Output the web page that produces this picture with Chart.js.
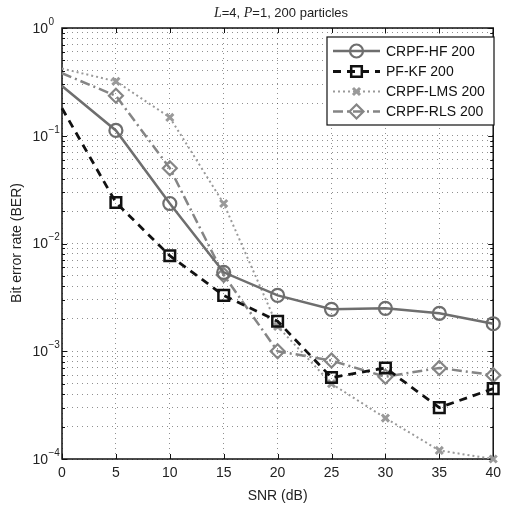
<!DOCTYPE html>
<html>
<head>
<meta charset="utf-8">
<script src="https://cdn.jsdelivr.net/npm/chart.js@4.4.1/dist/chart.umd.min.js"></script>
<style>
  html, body { margin: 0; padding: 0; background: #fff; }
  #wrap { width: 507px; height: 508px; }
</style>
</head>
<body>
<div id="wrap"><canvas id="chart" width="507" height="508"></canvas></div>
<script>
// data
const snr = [0, 5, 10, 15, 20, 25, 30, 35, 40];
const crpfHF = [0.29, 0.112, 0.0235, 0.0054, 0.0033, 0.00245, 0.0025, 0.00225, 0.0018];
const pfKF = [0.18, 0.024, 0.0077, 0.0033, 0.0019, 0.00057, 0.0007, 0.0003, 0.00045];
const crpfLMS = [0.42, 0.32, 0.148, 0.0235, 0.0017, 0.0005, 0.00024, 0.00012, 0.0001];
const crpfRLS = [0.38, 0.235, 0.05, 0.0051, 0.001, 0.00082, 0.00058, 0.0007, 0.0006];
const seriesNames = ['CRPF-HF 200', 'PF-KF 200', 'CRPF-LMS 200', 'CRPF-RLS 200'];
const yExponents = [0, -1, -2, -3, -4];

const SANS = '"Liberation Sans", Arial, sans-serif';
const SERIF = '"Liberation Serif", "Times New Roman", serif';

const pts = vals => snr.map((s, i) => ({ x: s, y: vals[i] }));

const styles = [
  { color: '#6e6e6e', width: 2.5, dash: [], marker: 'circle', r: 6.5, mw: 2.2 },
  { color: '#111111', width: 2.8, dash: [8, 6], marker: 'rect', r: 7.5, mw: 2.5 },
  { color: '#9a9a9a', width: 2, dash: [2, 3], marker: 'crossRot', r: 5, mw: 3 },
  { color: '#858585', width: 2.5, dash: [10, 4, 2, 4], marker: 'rectRot', r: 7, mw: 2.2 }
];
const values = [crpfHF, pfKF, crpfLMS, crpfRLS];

// no marker at SNR = 0 in the original
const radii = r => snr.map(s => (s === 0 ? 0 : r));

const datasets = values.map((v, i) => ({
  label: seriesNames[i],
  data: pts(v),
  borderColor: styles[i].color,
  borderWidth: styles[i].width,
  borderDash: styles[i].dash,
  pointStyle: styles[i].marker,
  pointRadius: radii(styles[i].r),
  pointBorderWidth: styles[i].mw,
  pointBorderColor: styles[i].color,
  pointBackgroundColor: 'rgba(0,0,0,0)',
  tension: 0,
  clip: false
}));

function marker(ctx, style, x, y, r) {
  ctx.beginPath();
  if (style === 'circle') {
    ctx.arc(x, y, r, 0, Math.PI * 2);
  } else if (style === 'rect') {
    const s = r * Math.SQRT1_2;
    ctx.rect(x - s, y - s, 2 * s, 2 * s);
  } else if (style === 'rectRot') {
    ctx.moveTo(x - r, y); ctx.lineTo(x, y - r); ctx.lineTo(x + r, y); ctx.lineTo(x, y + r); ctx.closePath();
  } else {
    const s = r * Math.SQRT1_2;
    ctx.moveTo(x - s, y - s); ctx.lineTo(x + s, y + s);
    ctx.moveTo(x + s, y - s); ctx.lineTo(x - s, y + s);
  }
  ctx.stroke();
}

const frame = {
  id: 'frame',
  beforeDatasetsDraw(chart) {
    const { ctx, chartArea: a, scales: { x, y } } = chart;
    ctx.save();
    ctx.strokeStyle = '#111';
    ctx.lineWidth = 1;
    ctx.beginPath();
    snr.forEach(v => {
      const px = Math.round(x.getPixelForValue(v)) + 0.5;
      ctx.moveTo(px, a.bottom); ctx.lineTo(px, a.bottom - 5);
      ctx.moveTo(px, a.top); ctx.lineTo(px, a.top + 5);
    });
    y.ticks.forEach(t => {
      const py = Math.round(y.getPixelForValue(t.value)) + 0.5;
      const m = Math.abs(Math.log10(t.value) - Math.round(Math.log10(t.value))) < 1e-9;
      const len = m ? 5 : 3;
      ctx.moveTo(a.left, py); ctx.lineTo(a.left + len, py);
      ctx.moveTo(a.right, py); ctx.lineTo(a.right - len, py);
    });
    ctx.stroke();
    ctx.lineWidth = 1.5;
    ctx.strokeRect(a.left, a.top, a.right - a.left, a.bottom - a.top);
    ctx.restore();
  },
  afterDraw(chart) {
    const { ctx, chartArea: a, scales: { y } } = chart;
    ctx.save();
    ctx.fillStyle = '#222';

    // y tick labels 10^k
    yExponents.forEach(e => {
      const py = y.getPixelForValue(Math.pow(10, e));
      ctx.font = '14px ' + SANS;
      ctx.textAlign = 'right';
      ctx.textBaseline = 'middle';
      ctx.fillText('10', 48, py + 1);
      ctx.font = '10px ' + SANS;
      ctx.textAlign = 'left';
      ctx.fillText(e === 0 ? '0' : '\u2212' + (-e), 48.5, py - 6);
    });

    // title with italic L and P
    const parts = [
      ['L', 'italic 14px ' + SERIF], ['=4, ', '13px ' + SANS],
      ['P', 'italic 14px ' + SERIF], ['=1, 200 particles', '13px ' + SANS]
    ];
    let total = 0;
    parts.forEach(p => { ctx.font = p[1]; total += ctx.measureText(p[0]).width; });
    let tx = 281 - total / 2;
    ctx.textAlign = 'left';
    ctx.textBaseline = 'middle';
    parts.forEach(p => { ctx.font = p[1]; ctx.fillText(p[0], tx, 13); tx += ctx.measureText(p[0]).width; });

    // axis titles
    ctx.font = '14px ' + SANS;
    ctx.textAlign = 'center';
    ctx.fillText('SNR (dB)', (a.left + a.right) / 2, 496);
    ctx.translate(17, 243);
    ctx.rotate(-Math.PI / 2);
    ctx.fillText('Bit error rate (BER)', 0, 0);
    ctx.setTransform(1, 0, 0, 1, 0, 0);

    // legend box
    const lx = 327, ly = 37, lw = 167, lh = 88;
    ctx.fillStyle = '#fff';
    ctx.fillRect(lx, ly, lw, lh);
    ctx.strokeStyle = '#111';
    ctx.lineWidth = 1.2;
    ctx.strokeRect(lx, ly, lw, lh);
    const rows = [51, 71.5, 91.5, 111.5];
    chart.data.datasets.forEach((ds, i) => {
      const st = styles[i];
      const yy = rows[i];
      ctx.strokeStyle = st.color;
      ctx.lineWidth = st.width;
      ctx.setLineDash(st.dash);
      ctx.beginPath();
      ctx.moveTo(333, yy); ctx.lineTo(380, yy);
      ctx.stroke();
      ctx.setLineDash([]);
      ctx.lineWidth = st.mw;
      marker(ctx, st.marker, 356.5, yy, st.r);
      ctx.fillStyle = '#111';
      ctx.font = '14px ' + SANS;
      ctx.textAlign = 'left';
      ctx.textBaseline = 'middle';
      ctx.fillText(ds.label, 386, yy + 1);
    });
    ctx.restore();
  }
};

const gridStyle = { color: 'rgba(70,70,70,0.6)', lineWidth: 1, drawTicks: false };

const ctx = document.getElementById('chart').getContext('2d');
const chart = new Chart(ctx, {
  type: 'line',
  data: { datasets: datasets },
  options: {
    responsive: false,
    animation: false,
    layout: { padding: { top: 28, right: 9, left: 0, bottom: 0 } },
    plugins: { legend: { display: false }, title: { display: false }, tooltip: { enabled: false } },
    scales: {
      x: {
        type: 'linear',
        min: 0,
        max: 40,
        afterBuildTicks: s => { s.ticks = snr.map(v => ({ value: v })); },
        afterFit: s => { s.height = 49; },
        grid: gridStyle,
        border: { display: false, dash: [1, 4] },
        ticks: { color: '#222', font: { family: SANS, size: 14 }, padding: 6, maxRotation: 0 }
      },
      y: {
        type: 'logarithmic',
        min: 1e-4,
        max: 1,
        afterBuildTicks: s => {
          const t = [];
          for (let e = -4; e < 0; e++) {
            for (let m = 1; m <= 9; m++) t.push({ value: m * Math.pow(10, e) });
          }
          t.push({ value: 1 });
          s.ticks = t;
        },
        afterFit: s => { s.width = 62; },
        grid: gridStyle,
        border: { display: false, dash: [1, 4] },
        ticks: { display: false }
      }
    }
  },
  plugins: [frame]
});
</script>
</body>
</html>
